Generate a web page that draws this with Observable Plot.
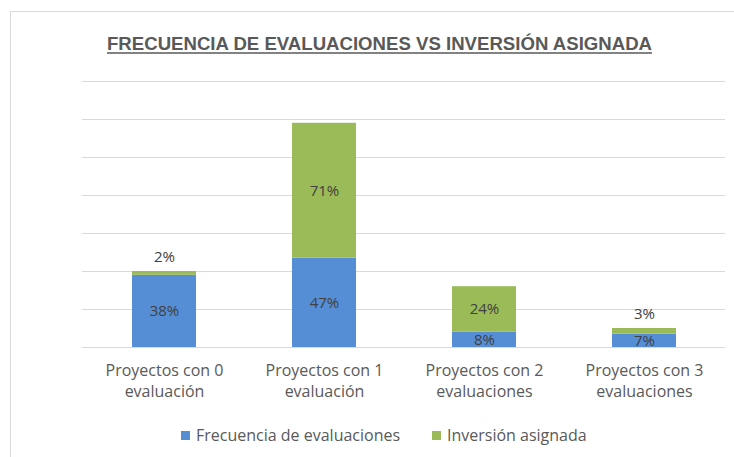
<!DOCTYPE html>
<html>
<head>
<meta charset="utf-8">
<script src="https://cdn.jsdelivr.net/npm/d3@7"></script>
<script src="https://cdn.jsdelivr.net/npm/@observablehq/plot@0.6"></script>
<style>
  html, body { margin: 0; padding: 0; background: #fff; }
  #wrap { position: relative; width: 734px; height: 457px; overflow: hidden; background: #fff; font-family: "Open Sans", sans-serif; }
  #frame { position: absolute; left: 10px; top: 11px; width: 740px; height: 460px; border-top: 1px solid #d9d9d9; border-left: 1px solid #d9d9d9; }
  #chart { position: absolute; left: 0; top: 0; }
  #title { position: absolute; left: 0; top: 0; }
  #legend { position: absolute; top: 424px; left: 0; width: 734px; height: 22px; font-size: 16px; color: #595959; }
  .item { position: absolute; top: 0; display: flex; align-items: center; height: 22px; white-space: nowrap; }
  .sw { width: 9px; height: 9px; margin-right: 6px; }
</style>
</head>
<body>
<div id="wrap">
  <div id="frame"></div>
  <div id="chart"></div>
  <svg id="title" width="734" height="70"></svg>
  <div id="legend"></div>
</div>
<script>
const titleText = "FRECUENCIA DE EVALUACIONES VS INVERSIÓN ASIGNADA";
const categories = [
  "Proyectos con 0\nevaluación",
  "Proyectos con 1\nevaluación",
  "Proyectos con 2\nevaluaciones",
  "Proyectos con 3\nevaluaciones"
];
const series = ["Frecuencia de evaluaciones", "Inversión asignada"];
const frecuencia = [38, 47, 8, 7];
const inversion = [2, 71, 24, 3];
const gridTicks = [0, 20, 40, 60, 80, 100, 120, 140];
const colors = ["#558ed5", "#9bbb59"];

const data = categories.flatMap((c, i) => [
  {cat: c, serie: series[0], value: frecuencia[i]},
  {cat: c, serie: series[1], value: inversion[i]}
]);

const chart = Plot.plot({
  width: 734,
  height: 410,
  marginLeft: 82,
  marginRight: 9,
  marginTop: 81,
  marginBottom: 63,
  style: {fontFamily: "'Open Sans', sans-serif", background: "transparent", color: "#595959"},
  x: {domain: categories, paddingInner: 0.6, paddingOuter: 0.3, label: null},
  y: {domain: [0, 140], label: null, axis: null},
  color: {domain: series, range: colors},
  marks: [
    Plot.ruleY(gridTicks, {stroke: "#d9d9d9", strokeWidth: 1.2}),
    Plot.barY(data, {x: "cat", y: "value", fill: "serie"}),
    Plot.text(data, Plot.stackY({
      x: "cat", y: "value", z: "serie",
      text: d => d.value >= 5 ? d.value + "%" : "",
      fill: "#404040", fontSize: 15
    })),
    Plot.text(data, Plot.stackY2({
      x: "cat", y: "value", z: "serie",
      text: d => d.value < 5 ? d.value + "%" : "",
      fill: "#404040", fontSize: 15, dy: -14
    })),
    Plot.axisX({tickSize: 0, tickPadding: 13, fontSize: 16, lineHeight: 1.32, fill: "#595959", label: null})
  ]
});
document.getElementById("chart").appendChild(chart);

// Title
const tsvg = d3.select("#title");
tsvg.append("text")
  .attr("x", 107).attr("y", 50)
  .attr("textLength", 545).attr("lengthAdjust", "spacingAndGlyphs")
  .attr("font-family", "'Liberation Sans Narrow', 'Liberation Sans', sans-serif")
  .attr("font-weight", "bold").attr("font-size", 18)
  .attr("fill", "#595959")
  .text(titleText);
tsvg.append("line")
  .attr("x1", 107).attr("x2", 652).attr("y1", 53).attr("y2", 53)
  .attr("stroke", "#595959").attr("stroke-width", 1.3);

// Legend
const legend = d3.select("#legend");
const lx = [181, 432];
series.forEach((s, i) => {
  const it = legend.append("div").attr("class", "item").style("left", lx[i] + "px");
  it.append("div").attr("class", "sw").style("background", colors[i]);
  it.append("span").text(s);
});
</script>
</body>
</html>
